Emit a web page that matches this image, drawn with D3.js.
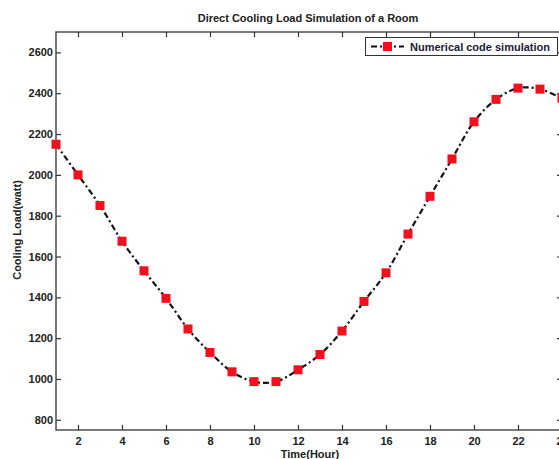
<!DOCTYPE html>
<html>
<head>
<meta charset="utf-8">
<script src="https://cdn.jsdelivr.net/npm/d3@7"></script>
<style>
  body { margin: 0; background: #fff; }
  text { font-family: "Liberation Sans", Arial, sans-serif; }
</style>
</head>
<body>
<div id="plot"></div>
<script>
// hours and cooling load
const hours = [1, 2, 3, 4, 5, 6, 7, 8, 9, 10, 11, 12, 13, 14, 15, 16, 17, 18, 19, 20, 21, 22, 23, 24];
const load = [2150, 2000, 1850, 1675, 1530, 1395, 1245, 1130, 1035, 987, 987, 1045,
  1120, 1235, 1380, 1520, 1710, 1895, 2078, 2260, 2370, 2425, 2420, 2375];
const xTicks = [2, 4, 6, 8, 10, 12, 14, 16, 18, 20, 22, 24];
const yTicks = [800, 1000, 1200, 1400, 1600, 1800, 2000, 2200, 2400, 2600];

let width = 559, height = 459;
let margin = { top: 32, right: -3, bottom: 29, left: 56 };

let svg = d3.select('#plot')
  .append('svg')
    .attr('width', width)
    .attr('height', height)
    .style('background', '#FFFFFF');

let xScale = d3.scaleLinear()
  .domain([1, 24])
  .range([margin.left, width - margin.right]);

let yScale = d3.scaleLinear()
  .domain([750, 2700])
  .range([height - margin.bottom, margin.top]);

// frame
svg.append('rect')
  .attr('x', xScale(1))
  .attr('y', yScale(2700))
  .attr('width', xScale(24) - xScale(1))
  .attr('height', yScale(750) - yScale(2700))
  .attr('fill', 'none')
  .attr('stroke', '#333')
  .attr('stroke-width', 1.3);

function styleAxis(g) {
  g.select('.domain').remove();
  g.selectAll('.tick line').attr('stroke', '#333').attr('stroke-width', 1.2);
  g.selectAll('.tick text')
    .attr('fill', '#222')
    .attr('font-size', '11px')
    .attr('font-weight', 'bold');
}

let xAxis = svg.append('g')
  .attr('transform', `translate(0,${yScale(750)})`)
  .call(d3.axisBottom(xScale).tickValues(xTicks).tickSize(-5).tickPadding(7).tickFormat(d3.format('d')));
styleAxis(xAxis);

svg.append('g')
  .attr('transform', `translate(0,${yScale(2700)})`)
  .call(d3.axisTop(xScale).tickValues(xTicks).tickSize(-5).tickFormat(''))
  .call(styleAxis);

let yAxis = svg.append('g')
  .attr('transform', `translate(${xScale(1)},0)`)
  .call(d3.axisLeft(yScale).tickValues(yTicks).tickSize(-5).tickPadding(3).tickFormat(d3.format('d')));
styleAxis(yAxis);

svg.append('g')
  .attr('transform', `translate(${xScale(24)},0)`)
  .call(d3.axisRight(yScale).tickValues(yTicks).tickSize(-5).tickFormat(''))
  .call(styleAxis);

// title and axis labels
svg.append('text')
  .attr('x', 308)
  .attr('y', 22)
  .attr('text-anchor', 'middle')
  .attr('font-size', '11px')
  .attr('font-weight', 'bold')
  .attr('fill', '#222')
  .text('Direct Cooling Load Simulation of a Room');

svg.append('text')
  .attr('x', 310)
  .attr('y', 458)
  .attr('text-anchor', 'middle')
  .attr('font-size', '11px')
  .attr('font-weight', 'bold')
  .attr('fill', '#222')
  .text('Time(Hour)');

svg.append('text')
  .attr('transform', 'translate(21,230) rotate(-90)')
  .attr('text-anchor', 'middle')
  .attr('font-size', '11px')
  .attr('font-weight', 'bold')
  .attr('fill', '#222')
  .text('Cooling Load(watt)');

// the series
let series = hours.map((h, i) => ({ h: h, v: load[i] }));

let line = d3.line()
  .x(d => xScale(d.h))
  .y(d => yScale(d.v))
  .curve(d3.curveCatmullRom);

svg.append('path')
  .datum(series)
  .attr('d', line)
  .attr('fill', 'none')
  .attr('stroke', '#111')
  .attr('stroke-width', 2.2)
  .attr('stroke-dasharray', '6,3,2,3');

svg.selectAll('rect.pt')
  .data(series)
  .enter()
  .append('rect')
    .attr('class', 'pt')
    .attr('x', d => xScale(d.h) - 4.5)
    .attr('y', d => yScale(d.v) - 4.5)
    .attr('width', 9)
    .attr('height', 9)
    .attr('fill', '#f0101e');

// legend
let legend = svg.append('g');
legend.append('rect')
  .attr('x', 365.5)
  .attr('y', 37.5)
  .attr('width', 192)
  .attr('height', 18)
  .attr('fill', '#fff')
  .attr('stroke', '#333')
  .attr('stroke-width', 1);
legend.append('line')
  .attr('x1', 371).attr('x2', 404)
  .attr('y1', 46.5).attr('y2', 46.5)
  .attr('stroke', '#111')
  .attr('stroke-width', 2.2)
  .attr('stroke-dasharray', '6,3,2,3');
legend.append('rect')
  .attr('x', 383)
  .attr('y', 42)
  .attr('width', 9)
  .attr('height', 9)
  .attr('fill', '#f0101e');
legend.append('text')
  .attr('x', 410)
  .attr('y', 50.5)
  .attr('font-size', '11px')
  .attr('font-weight', 'bold')
  .attr('fill', '#1c1c3a')
  .text('Numerical code simulation');
</script>
</body>
</html>
